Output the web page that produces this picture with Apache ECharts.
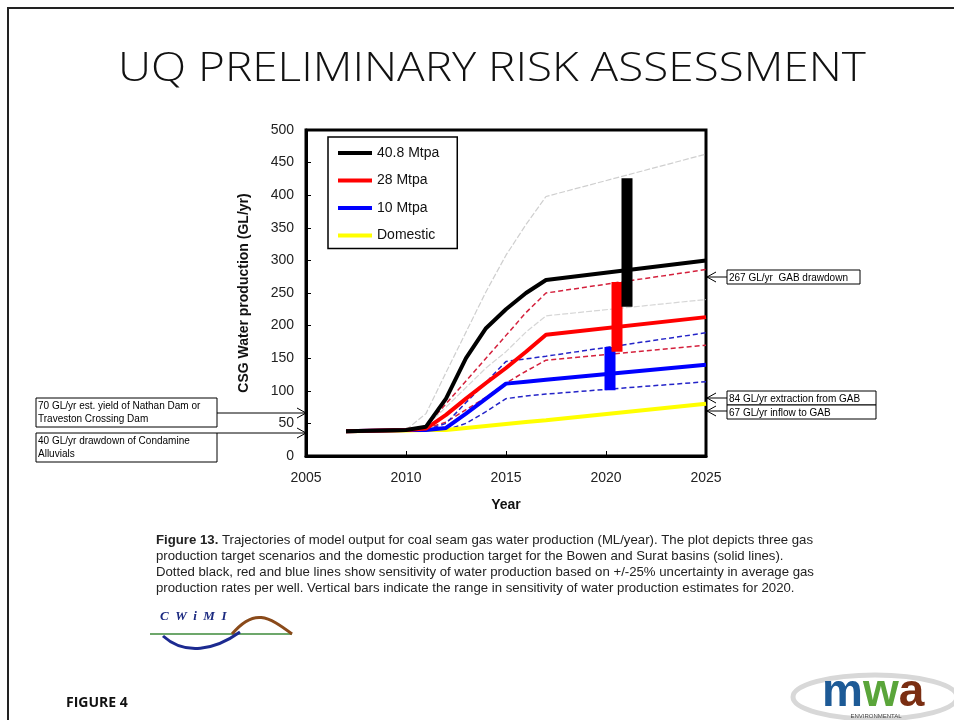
<!DOCTYPE html>
<html>
<head>
<meta charset="utf-8">
<script src="https://cdn.jsdelivr.net/npm/echarts@6/dist/echarts.min.js"></script>
<style>
html,body{margin:0;padding:0;background:#fff;}
#chart{width:954px;height:720px;}
</style>
</head>
<body>
<div id="chart"></div>
<script>
// ---- data ----
var years       = [2007, 2010, 2011, 2012, 2013, 2014, 2015, 2016, 2017, 2025];
var mtpa408     = [38, 40, 45, 88, 150, 196, 225, 250, 270, 300];
var mtpa408High = [null, 40, 65, 128, 190, 252, 308, 355, 398, 463];
var mtpa408Low  = [null, 40, 45, 75, 105, 135, 160, 190, 215, 240];
var mtpa28      = [38, 40, 42, 63, 88, 112, 135, 160, 186, 213];
var mtpa28High  = [null, null, 45, 80, 115, 150, 185, 220, 250, 286];
var mtpa28Low   = [null, null, 42, 52, 71, 90, 112, 130, 147, 170];
var mtpa10      = [38, 40, 40, 43, 65, 88, 111, 114, 117, 140];
var mtpa10High  = [null, null, 40, 50, 82, 113, 145, 149, 153, 189];
var mtpa10Low   = [null, null, null, 40, 50, 68, 88, 92, 95, 114];
var domestic    = [38, 39, 40, 40, 43, 46, 49, 52, 55, 80];

// sensitivity range bars (2020)
var rangeYear = [2021.05, 2020.55, 2020.2];
var rangeLow  = [229, 160, 101];
var rangeHigh = [426, 267, 167];

var seriesNames = ['40.8 Mtpa', '28 Mtpa', '10 Mtpa', 'Domestic'];
var xTicks = [2005, 2010, 2015, 2020, 2025];
var yTicks = [0, 50, 100, 150, 200, 250, 300, 350, 400, 450, 500];

function pairs(vals){
  var out = [];
  for (var i = 0; i < years.length; i++) {
    if (vals[i] !== null) out.push([years[i], vals[i]]);
  }
  return out;
}

var chart = echarts.init(document.getElementById('chart'));

function solid(name, vals, color){
  return {name: name, type: 'line', data: pairs(vals), symbol: 'none', z: 5,
    lineStyle: {color: color, width: 4}, itemStyle: {color: color}};
}
function dashed(name, vals, color, w, t){
  return {name: name, type: 'line', data: pairs(vals), symbol: 'none', z: 3,
    lineStyle: {color: color, width: w, type: t}, itemStyle: {color: color}};
}
function rangeBar(i, color){
  return {name: 'range' + i, type: 'line', symbol: 'none', z: 7,
    data: [[rangeYear[i], rangeLow[i]], [rangeYear[i], rangeHigh[i]]],
    lineStyle: {color: color, width: 11, cap: 'butt'}};
}

var font = 'Liberation Sans, Arial, sans-serif';

function box(x, y, w, h, lines){
  var els = [{type: 'rect', shape: {x: x, y: y, width: w, height: h},
    style: {fill: '#fff', stroke: '#000', lineWidth: 1}, z: 20}];
  els.push({type: 'text', x: x + 2, y: y + 1.5, z: 21,
    style: {text: lines.join('\n'), font: '10px ' + font, fill: '#000', lineHeight: 13}});
  return els;
}
function arrow(x1, x2, y, dir){
  var hx = x2 - dir * 9;
  return [
    {type: 'line', shape: {x1: x1, y1: y, x2: x2, y2: y}, style: {stroke: '#000', lineWidth: 1}, z: 20},
    {type: 'polyline', shape: {points: [[hx, y - 5], [x2, y], [hx, y + 5]]}, style: {stroke: '#000', fill: null, lineWidth: 1}, z: 20}
  ];
}

var graphics = [];
// slide border
graphics.push({type: 'polyline', shape: {points: [[8, 720], [8, 8], [954, 8]]}, style: {stroke: '#222', fill: null, lineWidth: 2}});
// title
graphics.push({type: 'text', x: 492, y: 69, scaleX: 1.12, originX: 0, originY: 0,
  style: {text: 'UQ PRELIMINARY RISK ASSESSMENT', font: '300 41px "Open Sans", Lato, sans-serif', fill: '#111', align: 'center', verticalAlign: 'middle'}});
// annotations right
graphics = graphics.concat(box(727, 270, 133, 14, ['267 GL/yr  GAB drawdown']));
graphics = graphics.concat(arrow(727, 707, 277, -1));
graphics = graphics.concat(box(727, 391, 149, 14, ['84 GL/yr extraction from GAB']));
graphics = graphics.concat(arrow(727, 707, 398, -1));
graphics = graphics.concat(box(727, 405, 149, 14, ['67 GL/yr inflow to GAB']));
graphics = graphics.concat(arrow(727, 707, 411, -1));
// annotations left
graphics = graphics.concat(box(36, 398, 181, 29, ['70 GL/yr est. yield of Nathan Dam or', 'Traveston Crossing Dam']));
graphics = graphics.concat(arrow(217, 306, 413, 1));
graphics = graphics.concat(box(36, 433, 181, 29, ['40 GL/yr drawdown of Condamine', 'Alluvials']));
graphics = graphics.concat(arrow(217, 306, 433, 1));
// caption
var capLines = [
  '{b|Figure 13.} Trajectories of model output for coal seam gas water production (ML/year). The plot depicts three gas',
  'production target scenarios and the domestic production target for the Bowen and Surat basins (solid lines).',
  'Dotted black, red and blue lines show sensitivity of water production based on +/-25% uncertainty in average gas',
  'production rates per well. Vertical bars indicate the range in sensitivity of water production estimates for 2020.'
];
graphics.push({type: 'text', x: 156, y: 532, style: {text: capLines.join('\n'), font: '13.2px ' + font, fill: '#222', lineHeight: 16,
  rich: {b: {font: 'bold 13.2px ' + font, fill: '#222', lineHeight: 16}}}});
// CWiMI logo
graphics.push({type: 'text', x: 160, y: 610, style: {text: 'C  W  i  M  I', font: 'italic bold 13px Liberation Serif, serif', fill: '#1c2a80'}});
graphics.push({type: 'line', shape: {x1: 150, y1: 634, x2: 292, y2: 634}, style: {stroke: '#3d8a3a', lineWidth: 1.5}});
graphics.push({type: 'bezierCurve', shape: {x1: 232, y1: 634, cpx1: 254, cpy1: 608, cpx2: 268, cpy2: 616, x2: 292, y2: 634}, style: {stroke: '#8a4a1a', fill: null, lineWidth: 3}});
graphics.push({type: 'bezierCurve', shape: {x1: 163, y1: 636, cpx1: 185, cpy1: 656, cpx2: 215, cpy2: 650, x2: 240, y2: 632}, style: {stroke: '#1c2a90', fill: null, lineWidth: 3}});
// mwa logo
graphics.push({type: 'ellipse', shape: {cx: 875, cy: 697, rx: 82, ry: 22}, style: {stroke: '#d8d8d8', fill: null, lineWidth: 5}});
graphics.push({type: 'text', x: 822, y: 670, style: {text: '{m|m}{w|w}{a|a}', font: 'bold 46px ' + font,
  rich: {m: {fill: '#1d5a96', font: 'bold 46px ' + font},
         w: {fill: '#5aa53a', font: 'bold 46px ' + font},
         a: {fill: '#7a2e12', font: 'bold 46px ' + font}}}});
graphics.push({type: 'text', x: 876, y: 713, style: {text: 'ENVIRONMENTAL', font: '6px ' + font, fill: '#444', align: 'center'}});
// FIGURE 4
graphics.push({type: 'text', x: 66, y: 703, style: {text: 'FIGURE 4', font: 'bold 14px "Open Sans", sans-serif', fill: '#111', verticalAlign: 'middle'}});

var option = {
  backgroundColor: '#fff',
  animation: false,
  grid: {left: 306, top: 130, width: 400, height: 326, show: true, borderColor: '#000', borderWidth: 3, backgroundColor: 'transparent'},
  legend: {
    data: seriesNames, orient: 'vertical', left: 328, top: 137,
    icon: 'rect', itemWidth: 34, itemHeight: 4, itemGap: 13.5,
    padding: [9, 18, 6, 10], borderColor: '#000', borderWidth: 1.5, backgroundColor: '#fff',
    textStyle: {fontFamily: font, fontSize: 14, color: '#111'}
  },
  xAxis: {
    type: 'value', min: xTicks[0], max: xTicks[xTicks.length - 1], interval: 5,
    name: 'Year', nameLocation: 'middle', nameGap: 42,
    nameTextStyle: {fontFamily: font, fontSize: 14, fontWeight: 'bold', color: '#111'},
    axisLine: {show: true, lineStyle: {color: '#000', width: 3}},
    axisTick: {show: true, inside: true, length: 5, lineStyle: {color: '#000'}},
    axisLabel: {fontFamily: font, fontSize: 14, color: '#222', margin: 15, formatter: function(v){return String(v);}},
    splitLine: {show: false}
  },
  yAxis: {
    type: 'value', min: yTicks[0], max: yTicks[yTicks.length - 1], interval: 50,
    name: 'CSG Water production (GL/yr)', nameLocation: 'middle', nameGap: 55,
    nameTextStyle: {fontFamily: font, fontSize: 14, fontWeight: 'bold', color: '#111'},
    axisLine: {show: true, lineStyle: {color: '#000', width: 3}},
    axisTick: {show: true, inside: true, length: 5, lineStyle: {color: '#000'}},
    axisLabel: {fontFamily: font, fontSize: 14, color: '#222', margin: 12},
    splitLine: {show: false}
  },
  series: [
    dashed('40.8 high', mtpa408High, '#cfcfcf', 1.2, [6, 2]),
    dashed('40.8 low', mtpa408Low, '#d6d6d6', 1.2, [6, 2]),
    dashed('28 high', mtpa28High, '#d4203c', 1.5, [5, 3]),
    dashed('28 low', mtpa28Low, '#d4203c', 1.5, [5, 3]),
    dashed('10 high', mtpa10High, '#2424c8', 1.5, [5, 3]),
    dashed('10 low', mtpa10Low, '#2424c8', 1.5, [5, 3]),
    solid('Domestic', domestic, '#ffff00'),
    solid('10 Mtpa', mtpa10, '#0000ff'),
    solid('28 Mtpa', mtpa28, '#ff0000'),
    solid('40.8 Mtpa', mtpa408, '#000000'),
    rangeBar(2, '#0000ff'),
    rangeBar(1, '#ff0000'),
    rangeBar(0, '#000000')
  ],
  graphic: graphics
};
chart.setOption(option);
</script>
</body>
</html>
